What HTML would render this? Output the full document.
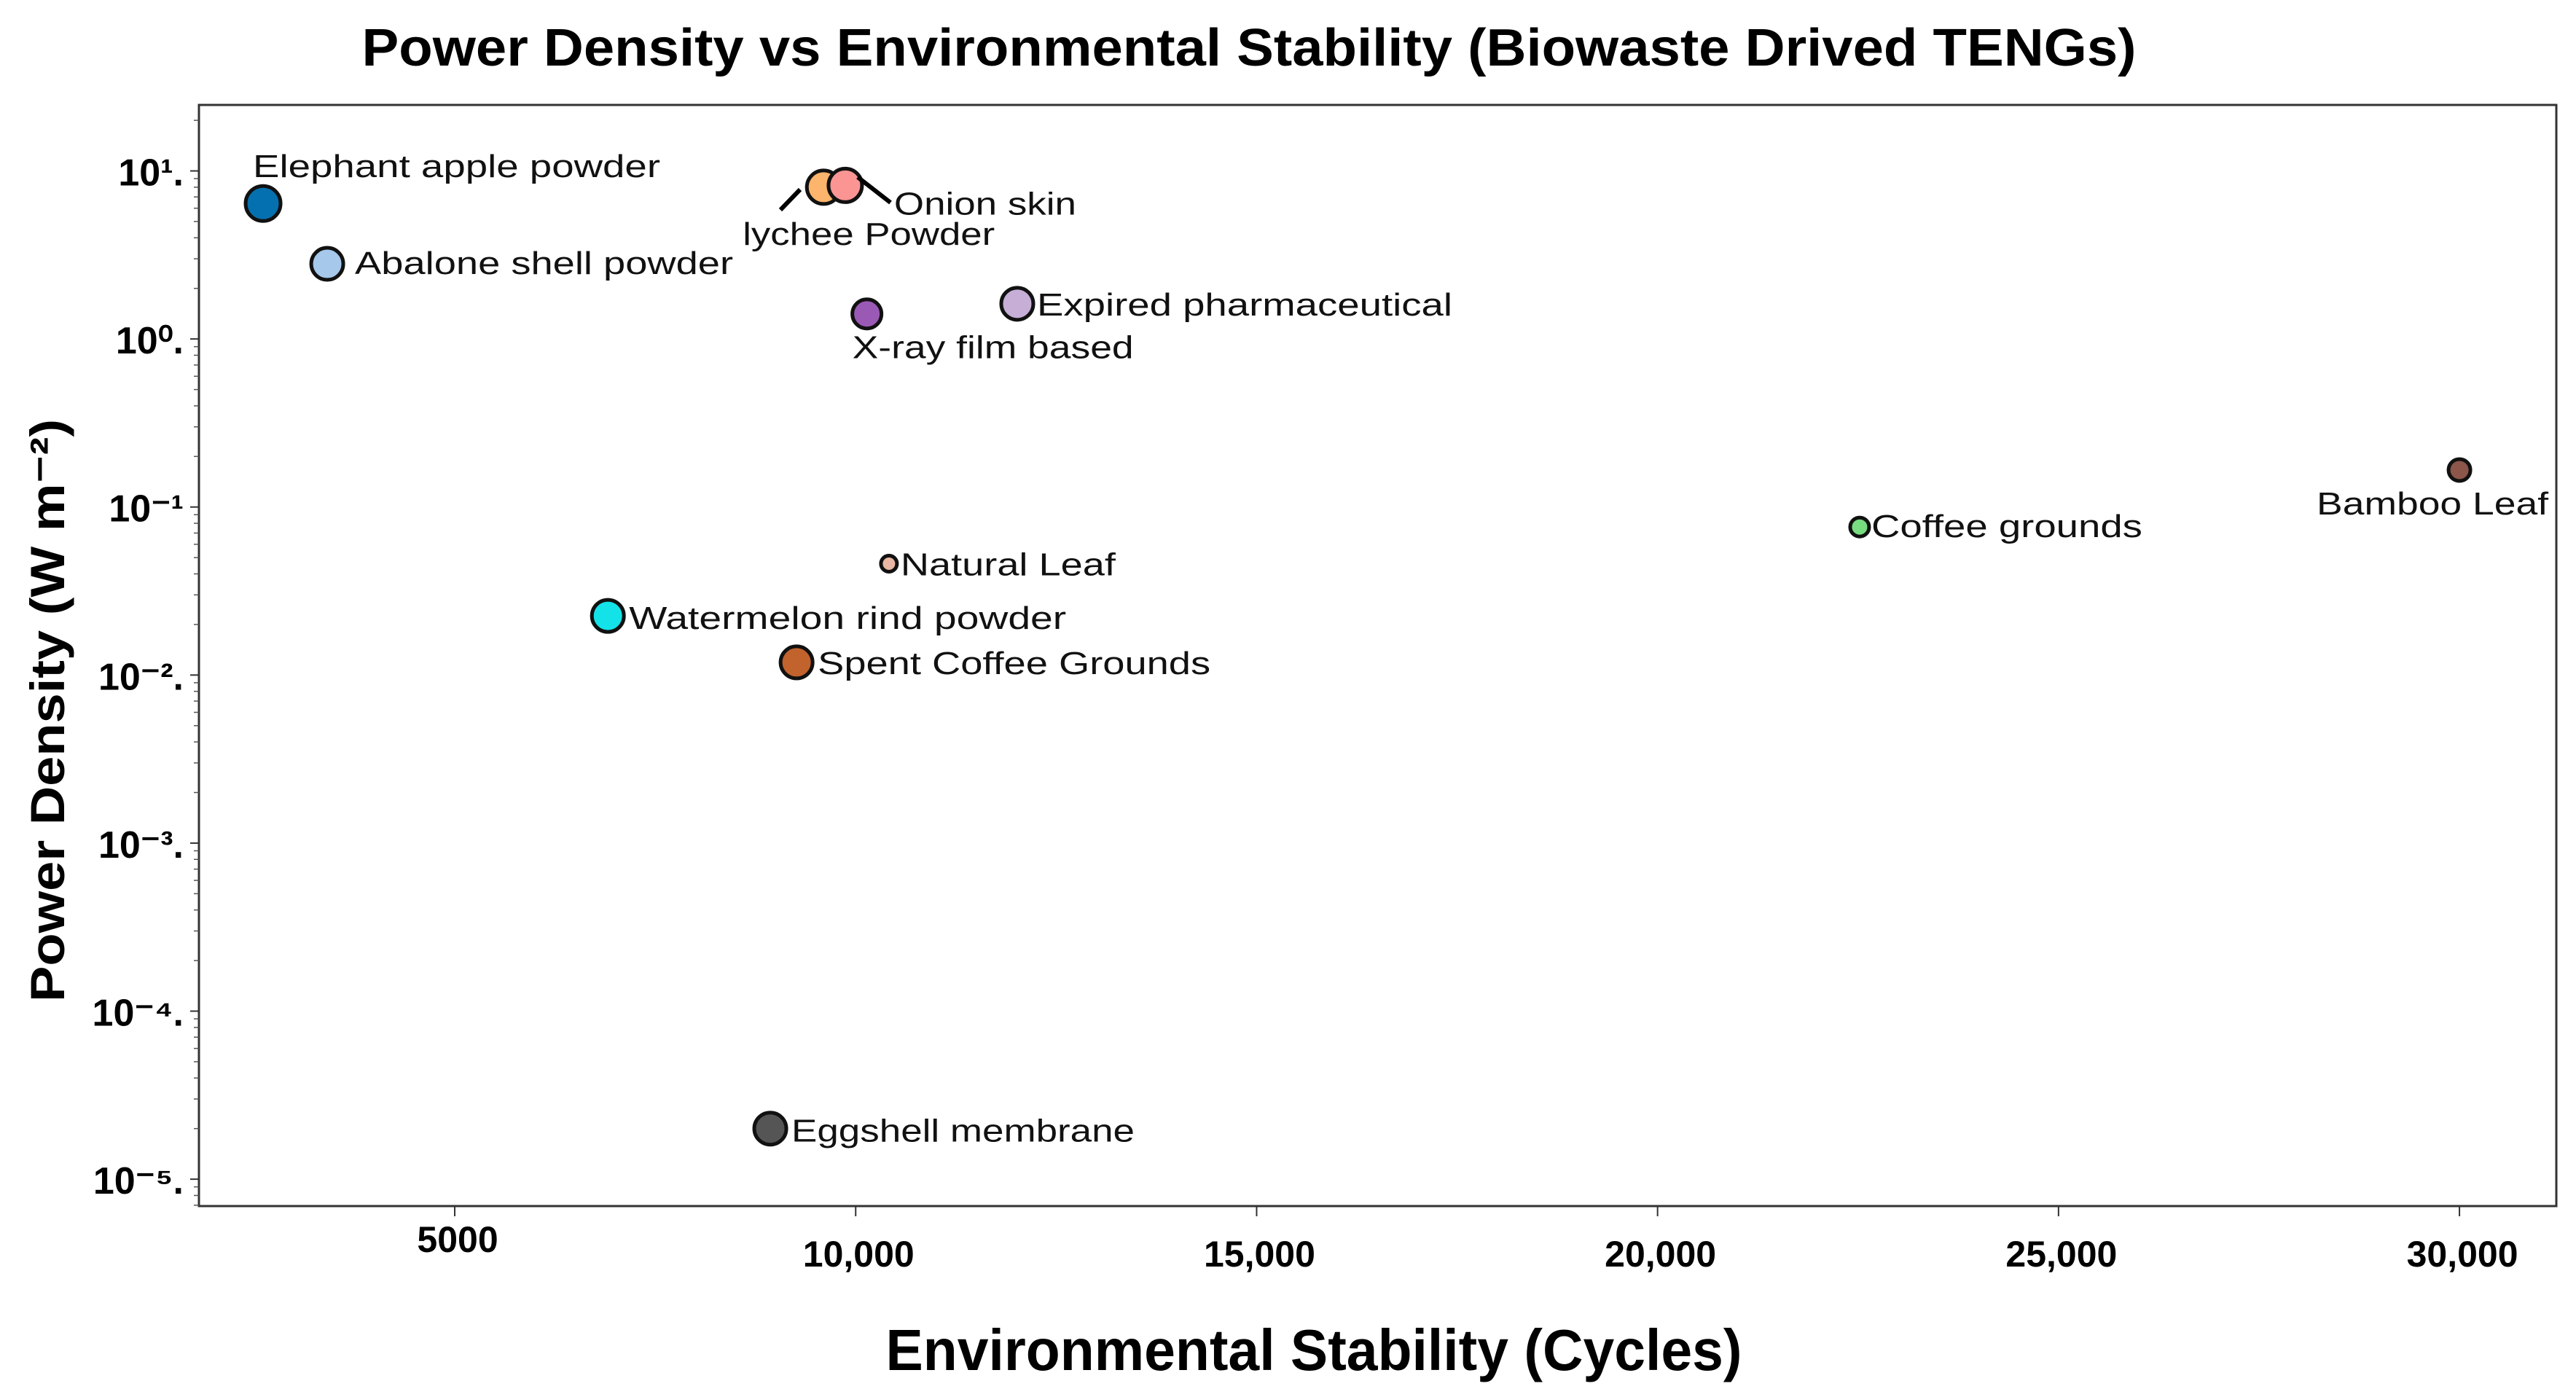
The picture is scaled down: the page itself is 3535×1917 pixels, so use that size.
<!DOCTYPE html>
<html><head><meta charset="utf-8"><style>
html,body{margin:0;padding:0;background:#fff;}
svg{display:block;font-family:"Liberation Sans",sans-serif;}
</style></head><body>
<svg id="chart" width="3535" height="1917" viewBox="0 0 3535 1917">
<rect x="0" y="0" width="3535" height="1917" fill="#fff"/>
<text x="1714" y="90" text-anchor="middle" font-size="72" font-weight="bold" textLength="2435" lengthAdjust="spacingAndGlyphs">Power Density vs Environmental Stability (Biowaste Drived TENGs)</text>
<text x="1803" y="1880" text-anchor="middle" font-size="80" font-weight="bold" textLength="1175" lengthAdjust="spacingAndGlyphs">Environmental Stability (Cycles)</text>
<text transform="translate(88,975) rotate(-90)" text-anchor="middle" font-size="66" font-weight="bold" textLength="800" lengthAdjust="spacingAndGlyphs">Power Density (W m⁻²)</text>
<g id="plot"></g>
</svg>
<script>
const names = ["Elephant apple powder","Abalone shell powder","lychee Powder","Onion skin","X-ray film based","Expired pharmaceutical","Natural Leaf","Watermelon rind powder","Spent Coffee Grounds","Eggshell membrane","Coffee grounds","Bamboo Leaf"];
const cycles = [2610,3410,9600,9870,10140,12015,10415,6910,9263,8935,22520,30000];
const power = [6.4,2.8,8.0,8.2,1.41,1.62,0.046,0.0225,0.0119,0.00002,0.076,0.166];
const sizes = [24,22,23,23,20,22,11,22,22,22,13,15];
const colors = ["#0570b0","#a6c8ea","#fdb46c","#fb9593","#9b59b6","#c6aed6","#e9b7a3","#13e3e8","#c2622d","#555555","#77dd80","#8c564b"];
const xTicks = [5000,10000,15000,20000,25000,30000];
const xTickLabels = ["5000","10,000","15,000","20,000","25,000","30,000"];
const yTicks = [1,0,-1,-2,-3,-4,-5];
const yTickLabels = ["10¹.","10⁰.","10⁻¹","10⁻².","10⁻³.","10⁻⁴.","10⁻⁵."];
const labelOffsets = [[-14,-36],[38,14],[-111,79],[67,40],[-20,61],[27,16],[16,16],[29,18],[29,16],[29,18],[16,14],[-196,61]];
const labelWidths = [559,519,346,250,386,570,295,600,539,471,372,318];

const L=273,R=3508,T=144,B=1655;
const xMin=1810,xMax=31208,lMax=Math.log10(24.7),lMin=-5.16;
const sx=v=>L+(v-xMin)/(xMax-xMin)*(R-L);
const sy=v=>T+(lMax-Math.log10(v))/(lMax-lMin)*(B-T);
const NS="http://www.w3.org/2000/svg";
const g=document.getElementById('plot');
function mk(tag,attrs,parent){const e=document.createElementNS(NS,tag);for(const k in attrs)e.setAttribute(k,attrs[k]);(parent||g).appendChild(e);return e;}

const frame=mk('rect',{x:L,y:T,width:R-L,height:B-T,fill:'none',stroke:'#333','stroke-width':3});



xTicks.forEach((v,i)=>{
  const x=sx(v);
  const t=mk('line',{x1:x,x2:x,y1:B,y2:B+14,stroke:'#333','stroke-width':2});
  
  
  const lb=mk('text',{x:x+4,y:i===0?1718:1738,'text-anchor':'middle','font-size':50,'font-weight':'bold'});
  lb.textContent=xTickLabels[i];
  
  
});
yTicks.forEach((d,i)=>{
  const y=sy(Math.pow(10,d));
  const t=mk('line',{x1:L-12,x2:L,y1:y,y2:y,stroke:'#333','stroke-width':2});
  
  
  const lb=mk('text',{x:252,y:y+20,'text-anchor':'end','font-size':52,'font-weight':'bold'});
  lb.textContent=yTickLabels[i];
  
  
});
for(let d=-6;d<=1;d++){for(let m=2;m<=9;m++){const v=m*Math.pow(10,d);const y=sy(v);if(y<T||y>B)continue;
  const t=mk('line',{x1:L-7,x2:L,y1:y,y2:y,stroke:'#555','stroke-width':1.5});
  
  
}}
const c1=mk('line',{x1:1071,y1:288,x2:1098,y2:260,stroke:'#000','stroke-width':6});


const c2=mk('line',{x1:1177,y1:243,x2:1222,y2:278,stroke:'#000','stroke-width':6});



names.forEach((n,i)=>{
  const x=sx(cycles[i]),y=sy(power[i]);
  const c=mk('circle',{cx:x,cy:y,r:sizes[i],fill:colors[i],stroke:'#111','stroke-width':5});
  
  
});
g.appendChild(c2);
names.forEach((n,i)=>{
  const x=sx(cycles[i]),y=sy(power[i]);
  const t=mk('text',{x:x+labelOffsets[i][0],y:y+labelOffsets[i][1],'font-size':44,textLength:labelWidths[i],lengthAdjust:'spacingAndGlyphs',fill:'#111'});
  t.textContent=n;
  
  
});
</script>
</body></html>
